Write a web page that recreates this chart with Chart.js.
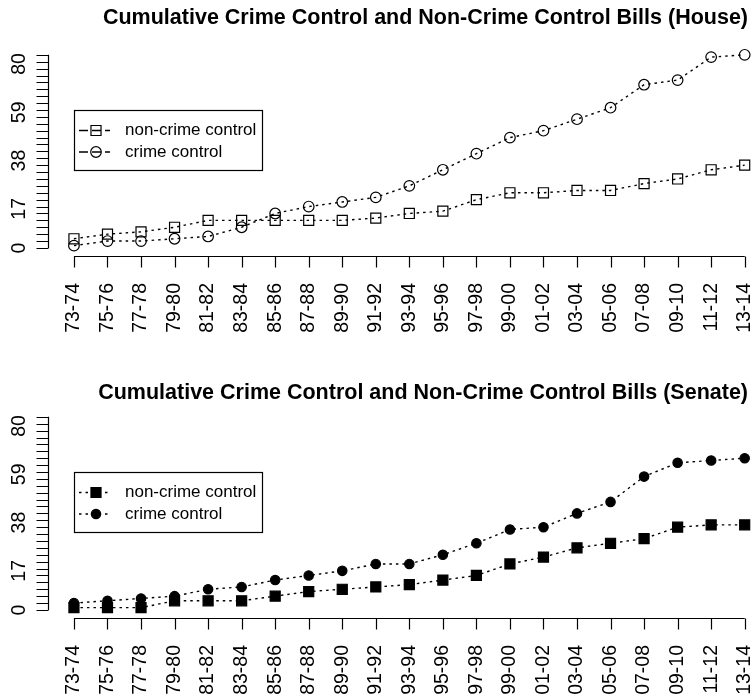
<!DOCTYPE html>
<html>
<head>
<meta charset="utf-8">
<title>Cumulative Crime Control and Non-Crime Control Bills</title>
<script src="https://cdn.jsdelivr.net/npm/chart.js@4.4.1/dist/chart.umd.min.js"></script>
<style>
  html, body { margin: 0; padding: 0; background: #fff; }
  #wrap { position: relative; width: 755px; height: 696px; overflow: hidden; }
  canvas { position: absolute; left: 0; }
</style>
</head>
<body>
<div id="wrap">
  <canvas id="house" width="755" height="362" style="top:0"></canvas>
  <canvas id="senate" width="755" height="334" style="top:362px"></canvas>
</div>
<script>
(function () {
    // congress sessions
    const periods = ['73-74', '75-76', '77-78', '79-80', '81-82', '83-84', '85-86',
        '87-88', '89-90', '91-92', '93-94', '95-96', '97-98', '99-00', '01-02',
        '03-04', '05-06', '07-08', '09-10', '11-12', '13-14'];

    // cumulative bill counts
    const houseNonCrime = [4, 6, 7, 9, 12, 12, 12, 12, 12, 13, 15, 16, 21, 24, 24, 25, 25, 28, 30, 34, 36];
    const houseCrime = [1, 3, 3, 4, 5, 9, 15, 18, 20, 22, 27, 34, 41, 48, 51, 56, 61, 71, 73, 83, 84];
    const senateNonCrime = [1, 1, 1, 4, 4, 4, 6, 8, 9, 10, 11, 13, 15, 20, 23, 27, 29, 31, 36, 37, 37];
    const senateCrime = [3, 4, 5, 6, 9, 10, 13, 15, 17, 20, 20, 24, 29, 35, 36, 42, 47, 58, 64, 65, 66];

    const yTickLabels = [0, 17, 38, 59, 80];
    const yMinorStep = 3;
    const yMinorMax = 84;

    const FONT = '"Liberation Sans", Arial, Helvetica, sans-serif';
    Chart.defaults.font.family = FONT;
    Chart.defaults.color = '#000';

    const toPoints = values => values.map((v, i) => ({x: i, y: v}));

    // R style floating axes: lines only span the tick range
    const rAxes = {
        id: 'rAxes',
        afterDraw(chart) {
            const {ctx, chartArea, scales: {x, y}} = chart;
            ctx.save();
            ctx.strokeStyle = '#000';
            ctx.lineWidth = 1.2;
            ctx.beginPath();
            const xb = chartArea.bottom + 0.5;
            ctx.moveTo(x.getPixelForValue(0), xb);
            ctx.lineTo(x.getPixelForValue(periods.length - 1), xb);
            periods.forEach((p, i) => {
                const px = Math.round(x.getPixelForValue(i)) + 0.5;
                ctx.moveTo(px, xb);
                ctx.lineTo(px, xb + 11);
            });
            const yl = chartArea.left + 0.5;
            ctx.moveTo(yl, y.getPixelForValue(0));
            ctx.lineTo(yl, y.getPixelForValue(yMinorMax));
            for (let v = 0; v <= yMinorMax; v += yMinorStep) {
                const py = Math.round(y.getPixelForValue(v)) + 0.5;
                ctx.moveTo(yl, py);
                ctx.lineTo(yl - 12, py);
            }
            ctx.stroke();
            ctx.restore();
        }
    };

    // boxed legend in the upper left, like legend("topleft", ...)
    const boxLegend = {
        id: 'boxLegend',
        afterDraw(chart, args, opts) {
            const {ctx, chartArea} = chart;
            const left = chartArea.left + 26;
            const top = chartArea.top + opts.top;
            ctx.save();
            ctx.strokeStyle = '#000';
            ctx.lineWidth = 1.2;
            ctx.strokeRect(left + 0.5, top + 0.5, 188, 60);
            chart.data.datasets.forEach((ds, i) => {
                const cy = top + 20.5 + i * 21.5;
                ctx.setLineDash(opts.dash);
                ctx.lineWidth = 1.3;
                ctx.beginPath();
                ctx.moveTo(left + 5, cy);
                ctx.lineTo(left + 36, cy);
                ctx.stroke();
                ctx.setLineDash([]);
                ctx.fillStyle = ds.pointBackgroundColor;
                ctx.lineWidth = ds.pointBorderWidth;
                Chart.helpers.drawPoint(ctx, {
                    pointStyle: ds.pointStyle,
                    radius: ds.pointRadius,
                    rotation: 0,
                    borderWidth: ds.pointBorderWidth,
                }, left + 22, cy);
                ctx.fillStyle = '#000';
                ctx.font = '17px ' + FONT;
                ctx.textBaseline = 'middle';
                ctx.textAlign = 'left';
                ctx.fillText(ds.label, left + 51, cy);
            });
            ctx.restore();
        }
    };

    function makeChart(id, title, nonCrime, crime, filled, legendDash, titlePad) {
        const canvas = document.getElementById(id);
        const fill = filled ? '#000' : 'rgba(0,0,0,0)';
        const common = {
            borderColor: '#000',
            borderWidth: 1.4,
            borderDash: [2.5, 4],
            pointBorderColor: '#000',
            pointBackgroundColor: fill,
            pointBorderWidth: 1.2,
            pointHoverRadius: 0,
            tension: 0,
            fill: false,
            clip: false,
        };
        return new Chart(canvas, {
            type: 'line',
            data: {
                datasets: [
                    Object.assign({
                        label: 'non-crime control',
                        data: toPoints(nonCrime),
                        pointStyle: 'rect',
                        pointRadius: 7.1,
                    }, common),
                    Object.assign({
                        label: 'crime control',
                        data: toPoints(crime),
                        pointStyle: 'circle',
                        pointRadius: filled ? 4.7 : 5.3,
                    }, common),
                ],
            },
            options: {
                responsive: false,
                animation: false,
                devicePixelRatio: 1,
                layout: {padding: {left: 0, right: 7, top: 0, bottom: 0}},
                scales: {
                    x: {
                        type: 'linear',
                        min: -0.774,
                        max: 20.06,
                        grid: {display: false},
                        border: {display: false},
                        afterBuildTicks: s => { s.ticks = periods.map((p, i) => ({value: i})); },
                        afterFit: s => {
                            s.height = canvas.height - 256;
                            s.paddingLeft = 0; s.paddingRight = 0;
                        },
                        ticks: {
                            autoSkip: false,
                            minRotation: 90,
                            maxRotation: 90,
                            padding: 19,
                            font: {size: 19.5},
                            callback: v => periods[v],
                        },
                    },
                    y: {
                        type: 'linear',
                        min: -3.5,
                        max: 87.4,
                        grid: {display: false},
                        border: {display: false},
                        afterBuildTicks: s => { s.ticks = yTickLabels.map(v => ({value: v})); },
                        afterFit: s => {
                            s.width = 48;
                            s.paddingTop = 0; s.paddingBottom = 0;
                        },
                        ticks: {
                            autoSkip: false,
                            minRotation: 90,
                            maxRotation: 90,
                            crossAlign: 'center',
                            padding: 10,
                            font: {size: 19.5},
                        },
                    },
                },
                plugins: {
                    legend: {display: false},
                    tooltip: {enabled: false},
                    title: {
                        display: true,
                        text: title,
                        align: 'end',
                        color: '#000',
                        font: {size: 21.5, weight: 'bold'},
                        padding: {top: titlePad, bottom: 47 - 25.8 - titlePad},
                    },
                    boxLegend: {dash: legendDash, top: 63},
                },
            },
            plugins: [rAxes, boxLegend],
        });
    }

    makeChart('house', 'Cumulative Crime Control and Non-Crime Control Bills (House)',
        houseNonCrime, houseCrime, false, [9, 4], 5.5);
    makeChart('senate', 'Cumulative Crime Control and Non-Crime Control Bills (Senate)',
        senateNonCrime, senateCrime, true, [2.5, 4], 18);
})();
</script>
</body>
</html>
